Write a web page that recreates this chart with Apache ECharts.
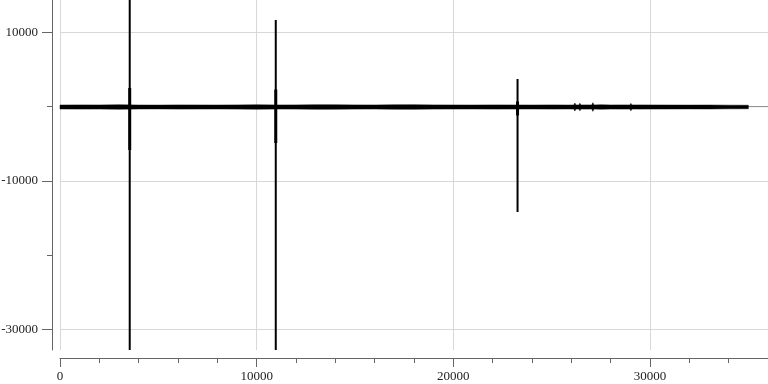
<!DOCTYPE html>
<html>
<head>
<meta charset="utf-8">
<script src="https://cdn.jsdelivr.net/npm/echarts@6/dist/echarts.min.js"></script>
<style>html,body{margin:0;padding:0;background:#fff;}#c{width:768px;height:384px;}</style>
</head>
<body>
<div id="c"></div>
<script>
const xMajorTicks = [0, 10000, 20000, 30000];
const yMajorTicks = [10000, -10000, -30000];
const yMinorTicks = [0, -20000];

const bandX  = [0,1000,2000,3000,4000,5000,6000,7000,8000,9000,10000,11000,12000,13000,14000,15000,16000,17000,18000,19000,20000,21000,22000,23000,24000,25000,
                25800,26130,26180,26230,26385,26435,26485,26800,27040,27096,27150,27500,28000,28600,28980,29029,29080,29500,30000,
                31000,32000,33000,34000,35000];
const bandHi = [210,230,220,240,210,200,230,220,210,230,240,220,230,250,240,230,220,240,250,230,220,210,230,220,210,230,
                210,220,480,220,220,440,220,230,220,520,220,240,220,230,220,430,220,230,220,
                210,200,210,190,180];
const bandLo = [-320,-340,-330,-350,-320,-310,-340,-330,-320,-340,-350,-330,-340,-360,-350,-340,-330,-350,-360,-340,-330,-320,-340,-330,-320,-340,
                -320,-330,-600,-330,-330,-560,-330,-340,-330,-640,-330,-350,-330,-340,-330,-560,-330,-340,-330,
                -320,-310,-320,-300,-290];

const spikeX      = [3545, 10971, 23265];
const spikeTop    = [14350, 11660, 3720];
const spikeBottom = [-32768, -32768, -14190];
const coreTop     = [2500, 2300, 700];
const coreBottom  = [-5850, -4900, -1200];

const zeroLine = [[0, 0], [36000, 0]];

const Y_MIN = -32768, Y_MAX = 14350, X_MIN = 0, X_MAX = 36000;

function segs(xs, a, b) {
  const out = [];
  xs.forEach((x, i) => { out.push([x, a[i]], [x, b[i]], [x, '-']); });
  return out;
}

const font = 'Liberation Serif';
const fmt = v => String(v);
const chart = echarts.init(document.getElementById('c'), null, {renderer: 'canvas'});
chart.setOption({
  animation: false,
  backgroundColor: '#fff',
  grid: {left: 60, right: 0, top: 0, bottom: 34, containLabel: false, outerBoundsMode: 'none'},
  xAxis: [{
    type: 'value', min: X_MIN, max: X_MAX, position: 'bottom', offset: 8,
    axisLine: {show: true, onZero: false, lineStyle: {color: '#666', width: 1}},
    axisTick: {show: true, length: 9, customValues: xMajorTicks, lineStyle: {color: '#666'}},
    axisLabel: {customValues: xMajorTicks, formatter: fmt, margin: 12, color: '#222', fontFamily: font, fontSize: 13},
    splitLine: {show: true, lineStyle: {color: '#d8d8d8', width: 1}}
  }, {
    type: 'value', min: X_MIN, max: X_MAX, interval: 2000, position: 'bottom', offset: 8,
    axisLine: {show: false, onZero: false},
    axisTick: {show: true, length: 5, lineStyle: {color: '#666'}},
    axisLabel: {show: false},
    splitLine: {show: false}
  }],
  yAxis: [{
    type: 'value', min: Y_MIN, max: Y_MAX, position: 'left', offset: 8,
    axisLine: {show: true, onZero: false, lineStyle: {color: '#666', width: 1}},
    axisTick: {show: true, length: 10, customValues: yMajorTicks, lineStyle: {color: '#666'}},
    axisLabel: {customValues: yMajorTicks, formatter: fmt, margin: 14, color: '#222', fontFamily: font, fontSize: 13},
    splitLine: {show: true, lineStyle: {color: '#d8d8d8', width: 1}}
  }, {
    type: 'value', min: Y_MIN, max: Y_MAX, position: 'left', offset: 8,
    axisLine: {show: false, onZero: false},
    axisTick: {show: true, length: 5, customValues: yMinorTicks, lineStyle: {color: '#666'}},
    axisLabel: {show: false},
    splitLine: {show: false}
  }],
  series: [{
    type: 'line', z: 1, showSymbol: false, silent: true, data: zeroLine,
    lineStyle: {color: '#888', width: 1}
  }, {
    type: 'custom', z: 2, silent: true, data: [[0, 0]],
    renderItem: function (params, api) {
      const pts = [];
      for (let i = 0; i < bandX.length; i++) pts.push(api.coord([bandX[i], bandHi[i]]));
      for (let i = bandX.length - 1; i >= 0; i--) pts.push(api.coord([bandX[i], bandLo[i]]));
      return {type: 'polygon', shape: {points: pts}, style: {fill: '#000', stroke: '#000', lineWidth: 0.5}};
    }
  }, {
    type: 'line', z: 3, showSymbol: false, silent: true, connectNulls: false,
    data: segs(spikeX, spikeTop, spikeBottom),
    lineStyle: {color: '#000', width: 2}
  }, {
    type: 'line', z: 3, showSymbol: false, silent: true, connectNulls: false,
    data: segs(spikeX, coreTop, coreBottom),
    lineStyle: {color: '#000', width: 3}
  }]
});
</script>
</body>
</html>
